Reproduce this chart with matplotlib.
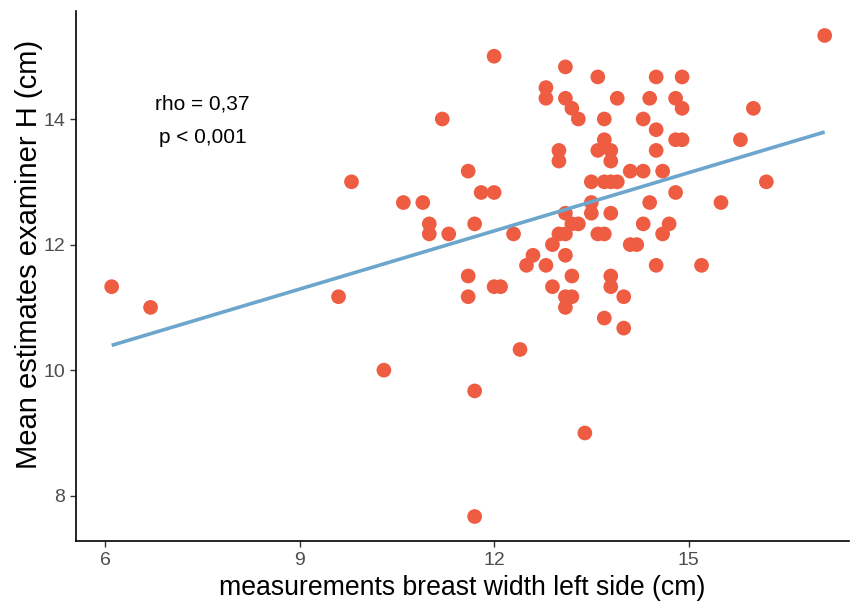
import numpy as np
import matplotlib
matplotlib.use("Agg")
import matplotlib.pyplot as plt

plt.rcParams['font.family'] = ['Liberation Sans', 'DejaVu Sans']

# breast width left side (cm) measured
width_left = [6.1, 6.7, 9.6, 9.8, 10.3, 10.6, 10.9, 11.0, 11.0, 11.3,
              11.2, 11.6, 11.6, 11.6, 11.7, 11.7, 11.7, 11.8, 12.0, 12.0,
              12.0, 12.1, 12.3, 12.4, 12.5, 12.6, 12.8, 12.8, 12.8, 12.9,
              12.9, 13.0, 13.0, 13.0, 13.1, 13.1, 13.1, 13.1, 13.1, 13.1,
              13.1, 13.2, 13.2, 13.2, 13.2, 13.3, 13.3, 13.4, 13.5, 13.5,
              13.5, 13.6, 13.6, 13.6, 13.7, 13.7, 13.7, 13.7, 13.7, 13.8,
              13.8, 13.8, 13.8, 13.8, 13.8, 13.9, 13.9, 14.0, 14.0, 14.1,
              14.1, 14.2, 14.3, 14.3, 14.3, 14.4, 14.4, 14.5, 14.5, 14.5,
              14.5, 14.6, 14.6, 14.7, 14.8, 14.8, 14.8, 14.9, 14.9, 14.9,
              15.2, 15.5, 15.8, 16.0, 16.2, 17.1]

# mean estimates of examiner H (cm)
estimate_h = [11.33, 11.0, 11.17, 13.0, 10.0, 12.67, 12.67, 12.33, 12.17, 12.17,
              14.0, 13.17, 11.5, 11.17, 12.33, 9.67, 7.67, 12.83, 12.83, 15.0,
              11.33, 11.33, 12.17, 10.33, 11.67, 11.83, 11.67, 14.5, 14.33, 12.0,
              11.33, 12.17, 13.5, 13.33, 12.17, 12.5, 11.83, 11.17, 11.0, 14.83,
              14.33, 12.33, 11.5, 11.17, 14.17, 12.33, 14.0, 9.0, 13.0, 12.67,
              12.5, 12.17, 14.67, 13.5, 13.0, 12.17, 14.0, 13.67, 10.83, 13.0,
              12.5, 11.5, 11.33, 13.5, 13.33, 13.0, 14.33, 11.17, 10.67, 13.17,
              12.0, 12.0, 13.17, 12.33, 14.0, 12.67, 14.33, 11.67, 14.67, 13.83,
              13.5, 13.17, 12.17, 12.33, 12.83, 14.33, 13.67, 14.67, 14.17, 13.67,
              11.67, 12.67, 13.67, 14.17, 13.0, 15.33]

x_ticks = [6, 9, 12, 15]
y_ticks = [8, 10, 12, 14]
stat_labels = ["rho = 0,37", "p < 0,001"]

x = np.array(width_left)
y = np.array(estimate_h)
slope, intercept = np.polyfit(x, y, 1)
fit_x = np.array([x.min(), x.max()])
fit_y = intercept + slope * fit_x

fig = plt.figure(figsize=(8.5, 6.01), dpi=100)
ax = fig.add_axes([76 / 850, 60 / 601, 773 / 850, 530 / 601])

ax.scatter(x, y, s=112, color="#EE5C42", edgecolors="none", zorder=2)
ax.plot(fit_x, fit_y, color="#6CA6CD", lw=2.6, solid_capstyle="butt", zorder=3)

ax.text(7.5, 14.24, stat_labels[0], ha="center", va="center", fontsize=15)
ax.text(7.5, 13.71, stat_labels[1], ha="center", va="center", fontsize=15)

ax.set_xlim(5.55, 17.475)
ax.set_ylim(7.28, 15.72)
ax.set_xticks(x_ticks)
ax.set_yticks(y_ticks)

for side in ["top", "right"]:
    ax.spines[side].set_visible(False)
for side in ["left", "bottom"]:
    ax.spines[side].set_linewidth(1.2)
    ax.spines[side].set_color("black")

ax.tick_params(axis="both", length=4, width=1.0, color="#333333",
               labelsize=14, labelcolor="#4D4D4D", pad=4)

ax.set_xlabel("measurements breast width left side (cm)", fontsize=19.2, labelpad=4)
ax.set_ylabel("Mean estimates examiner H (cm)", fontsize=21)
ax.yaxis.set_label_coords(-0.043, 0.54)

fig.savefig("out.png", dpi=100)
